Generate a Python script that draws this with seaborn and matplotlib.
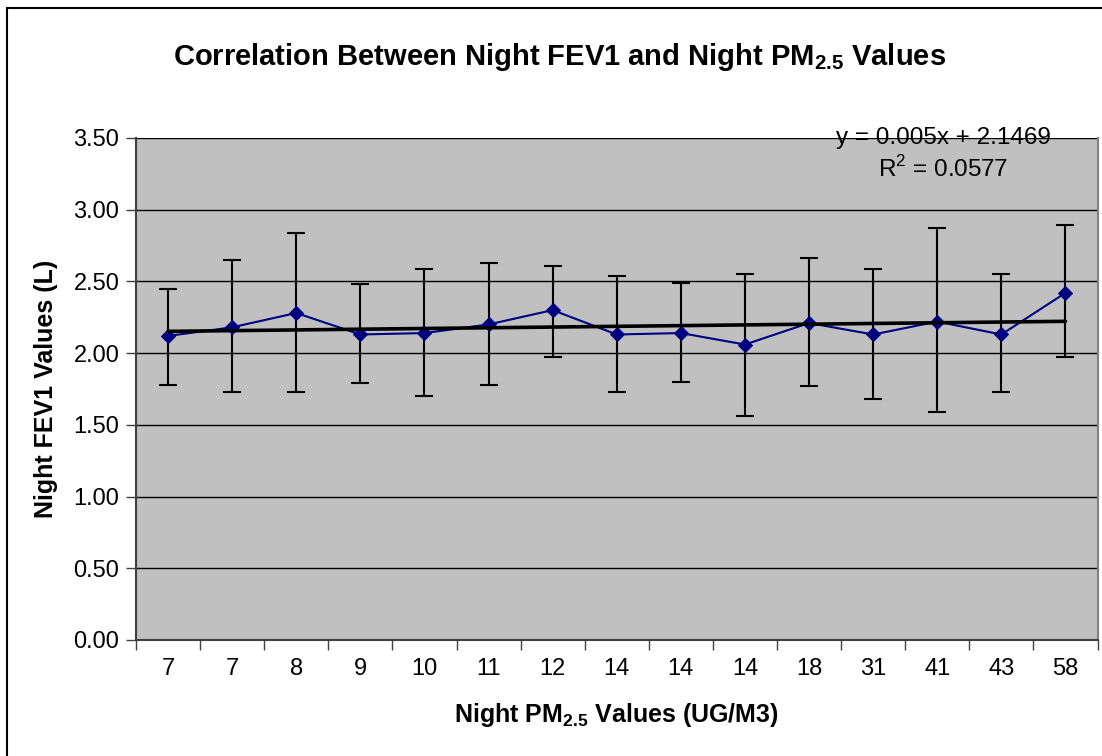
import matplotlib
matplotlib.use("Agg")
import matplotlib.pyplot as plt
import seaborn as sns
import numpy as np
import pandas as pd
from matplotlib.patches import Rectangle

# --- data ---
pm25_labels = ["7", "7", "8", "9", "10", "11", "12", "14", "14", "14", "18", "31", "41", "43", "58"]
fev1_mean = [2.12, 2.18, 2.28, 2.13, 2.14, 2.20, 2.30, 2.13, 2.14, 2.06, 2.21, 2.13, 2.22, 2.13, 2.42]
fev1_upper = [2.45, 2.65, 2.84, 2.48, 2.59, 2.63, 2.61, 2.54, 2.49, 2.55, 2.66, 2.59, 2.87, 2.55, 2.89]
fev1_lower = [1.78, 1.73, 1.73, 1.79, 1.70, 1.78, 1.97, 1.73, 1.80, 1.56, 1.77, 1.68, 1.59, 1.73, 1.97]
trend_slope = 0.005
trend_intercept = 2.1469
r_squared = 0.0577

df = pd.DataFrame({"pos": np.arange(len(pm25_labels)), "fev1": fev1_mean,
                   "upper": fev1_upper, "lower": fev1_lower})
df["trend"] = trend_slope * (df["pos"] + 1) + trend_intercept

sns.set_theme(style="white")
plt.rcParams["font.family"] = ["Liberation Sans", "DejaVu Sans"]
plt.rcParams["mathtext.fontset"] = "custom"
plt.rcParams["mathtext.rm"] = "Liberation Sans"
plt.rcParams["mathtext.bf"] = "Liberation Sans:bold"
plt.rcParams["text.color"] = "black"
plt.rcParams["axes.labelcolor"] = "black"
plt.rcParams["xtick.labelcolor"] = "black"
plt.rcParams["ytick.labelcolor"] = "black"

fig = plt.figure(figsize=(11.02, 7.56), dpi=100)
fig.patch.set_facecolor("white")
# outer chart border
fig.patches.append(Rectangle((7 / 1102, -0.1), 1.2, (756 - 8) / 756 + 0.1,
                             transform=fig.transFigure, fill=False,
                             edgecolor="black", linewidth=1.5))

ax = fig.add_axes([136 / 1102, 116 / 756, (1097.5 - 136) / 1102, (640 - 138) / 756])
ax.set_facecolor("#c0c0c0")

# error bars
ax.errorbar(df["pos"], df["fev1"],
            yerr=[df["fev1"] - df["lower"], df["upper"] - df["fev1"]],
            fmt="none", ecolor="black", elinewidth=1.5, capsize=6.5, capthick=1.5, zorder=3)

# data series
sns.lineplot(data=df, x="pos", y="fev1", ax=ax, color="#000080", linewidth=1.5,
             marker="D", markersize=7, markeredgecolor="#000080", zorder=4)

# linear trendline
sns.lineplot(data=df, x="pos", y="trend", ax=ax, color="black", linewidth=2.6, zorder=5)

ax.set_ylim(0, 3.5)
ax.set_yticks(np.arange(0, 3.51, 0.5))
ax.set_yticklabels([f"{v:.2f}" for v in np.arange(0, 3.51, 0.5)], fontsize=17)
ax.yaxis.grid(True, color="black", linewidth=1.0)
ax.set_axisbelow(True)

ax.set_xlim(-0.5, len(pm25_labels) - 0.5)
ax.set_xticks(np.arange(-0.5, len(pm25_labels), 1.0))
ax.set_xticklabels([])
ax.set_xticks(df["pos"], minor=True)
ax.set_xticklabels(pm25_labels, minor=True, fontsize=17)
ax.tick_params(axis="x", which="major", direction="out", length=7, width=1, color="#404040", bottom=True)
ax.tick_params(axis="x", which="minor", length=0, pad=13)
ax.tick_params(axis="y", direction="out", length=7, width=1, color="#404040", left=True, pad=5)

ax.spines["top"].set_visible(False)
ax.spines["left"].set_color("#404040")
ax.spines["bottom"].set_color("#404040")
ax.spines["right"].set_color("#808080")
for s in ["left", "bottom", "right"]:
    ax.spines[s].set_linewidth(1.5)

ax.set_xlabel(r"Night PM$\mathbf{_{2.5}}$ Values (UG/M3)", fontsize=18, fontweight="bold", labelpad=15)
ax.set_ylabel("Night FEV1 Values (L)", fontsize=18, fontweight="bold", labelpad=11)

fig.text(560 / 1102, 1 - 57 / 756, r"Correlation Between Night FEV1 and Night PM$\mathbf{_{2.5}}$ Values",
         ha="center", va="center", fontsize=21, fontweight="bold")

ax.text(943 / 1102, 1 - 138 / 756, f"y = {trend_slope}x + {trend_intercept}",
        transform=fig.transFigure, ha="center", va="center", fontsize=17.5)
ax.text(943 / 1102, 1 - 169 / 756, f"R$^2$ = {r_squared}",
        transform=fig.transFigure, ha="center", va="center", fontsize=17.5)

fig.savefig("out.png", dpi=100)
